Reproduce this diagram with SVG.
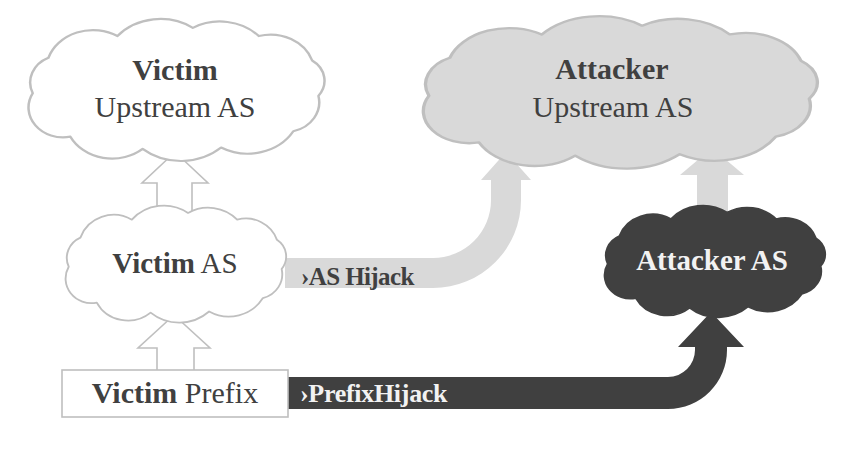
<svg xmlns="http://www.w3.org/2000/svg" xmlns:xlink="http://www.w3.org/1999/xlink" width="868" height="453" viewBox="0 0 868 453">
<defs>
<style>
.t{font-family:"Liberation Serif","Times New Roman",serif;fill:#404040;text-anchor:middle}
.b{font-weight:bold}
.w{fill:#f2f2f2}
.cl{vector-effect:non-scaling-stroke;stroke-width:1.6;stroke-linejoin:round}
.hol{fill:#ffffff;stroke:#bfbfbf;stroke-width:1.6;stroke-linejoin:miter}
</style>
<path id="cloud" d="M 10,56 A 20,20 0 0 1 20,30 A 30,30 0 0 1 64,14 A 36,36 0 0 1 112,8 A 34,34 0 0 1 154,14 A 28,28 0 0 1 188,32 A 18,18 0 0 1 192,58 A 22,22 0 0 1 176,84 A 34,34 0 0 1 130,96 A 38,38 0 0 1 80,97 A 30,30 0 0 1 34,88 A 22,22 0 0 1 10,56 Z"/>
</defs>
<rect width="868" height="453" fill="#ffffff"/>
<g id="connectors">
<path d="M 285,258 L 433,258 A 58,58 0 0 0 491,200 L 491,180 L 481,180 L 506,152 L 531,180 L 521,180 L 521,200 A 88,88 0 0 1 433,288 L 285,288 Z" fill="#d9d9d9"/>
<path d="M 697,218 L 697,175 L 680,175 L 712,148 L 744,175 L 728,175 L 728,218 Z" fill="#d9d9d9"/>
<path d="M 287,377 L 668,377 A 27,27 0 0 0 695,350 L 695,347 L 678,347 L 711,312 L 744,347 L 727,347 L 727,350 A 59,59 0 0 1 668,409 L 287,409 Z" fill="#404040"/>
<path class="hol" d="M 157,222 L 157,183 L 142,183 L 175,152 L 208,183 L 192,183 L 192,222 Z"/>
<path class="hol" d="M 157,372 L 157,348 L 138,348 L 174,315 L 210,348 L 194,348 L 194,372 Z"/>
<text class="t b" x="301" y="285" font-size="25" letter-spacing="-0.6" style="text-anchor:start">›AS Hijack</text>
<text class="t b w" x="300" y="402" font-size="26" letter-spacing="-0.3" style="text-anchor:start">›PrefixHijack</text>
</g>
<g id="victim-upstream">
<use xlink:href="#cloud" class="cl" fill="#ffffff" stroke="#bfbfbf" transform="translate(17,17) scale(1.57,1.36)"/>
<text class="t b" x="175" y="80" font-size="30">Victim</text>
<text class="t" x="175" y="117" font-size="30">Upstream AS</text>
</g>
<g id="attacker-upstream">
<use xlink:href="#cloud" class="cl" fill="#d9d9d9" stroke="#bfbfbf" transform="translate(408,14) scale(2.09,1.46)"/>
<text class="t b" x="612" y="79" font-size="30">Attacker</text>
<text class="t" x="613" y="117" font-size="30">Upstream AS</text>
</g>
<g id="victim-as">
<use xlink:href="#cloud" class="cl" fill="#ffffff" stroke="#bfbfbf" transform="translate(57,204) scale(1.17,1.12)"/>
<text class="t" x="175" y="273" font-size="29"><tspan class="b">Victim</tspan> AS</text>
</g>
<g id="attacker-as">
<use xlink:href="#cloud" class="cl" fill="#404040" stroke="#404040" transform="translate(596,204) scale(1.17,1.07)"/>
<text class="t b w" x="712" y="270" font-size="29">Attacker AS</text>
</g>
<g id="victim-prefix">
<rect x="62" y="370" width="226" height="47" fill="#ffffff" stroke="#bfbfbf" stroke-width="1.6"/>
<text class="t" x="175" y="403" font-size="30"><tspan class="b">Victim</tspan> Prefix</text>
</g>
</svg>
